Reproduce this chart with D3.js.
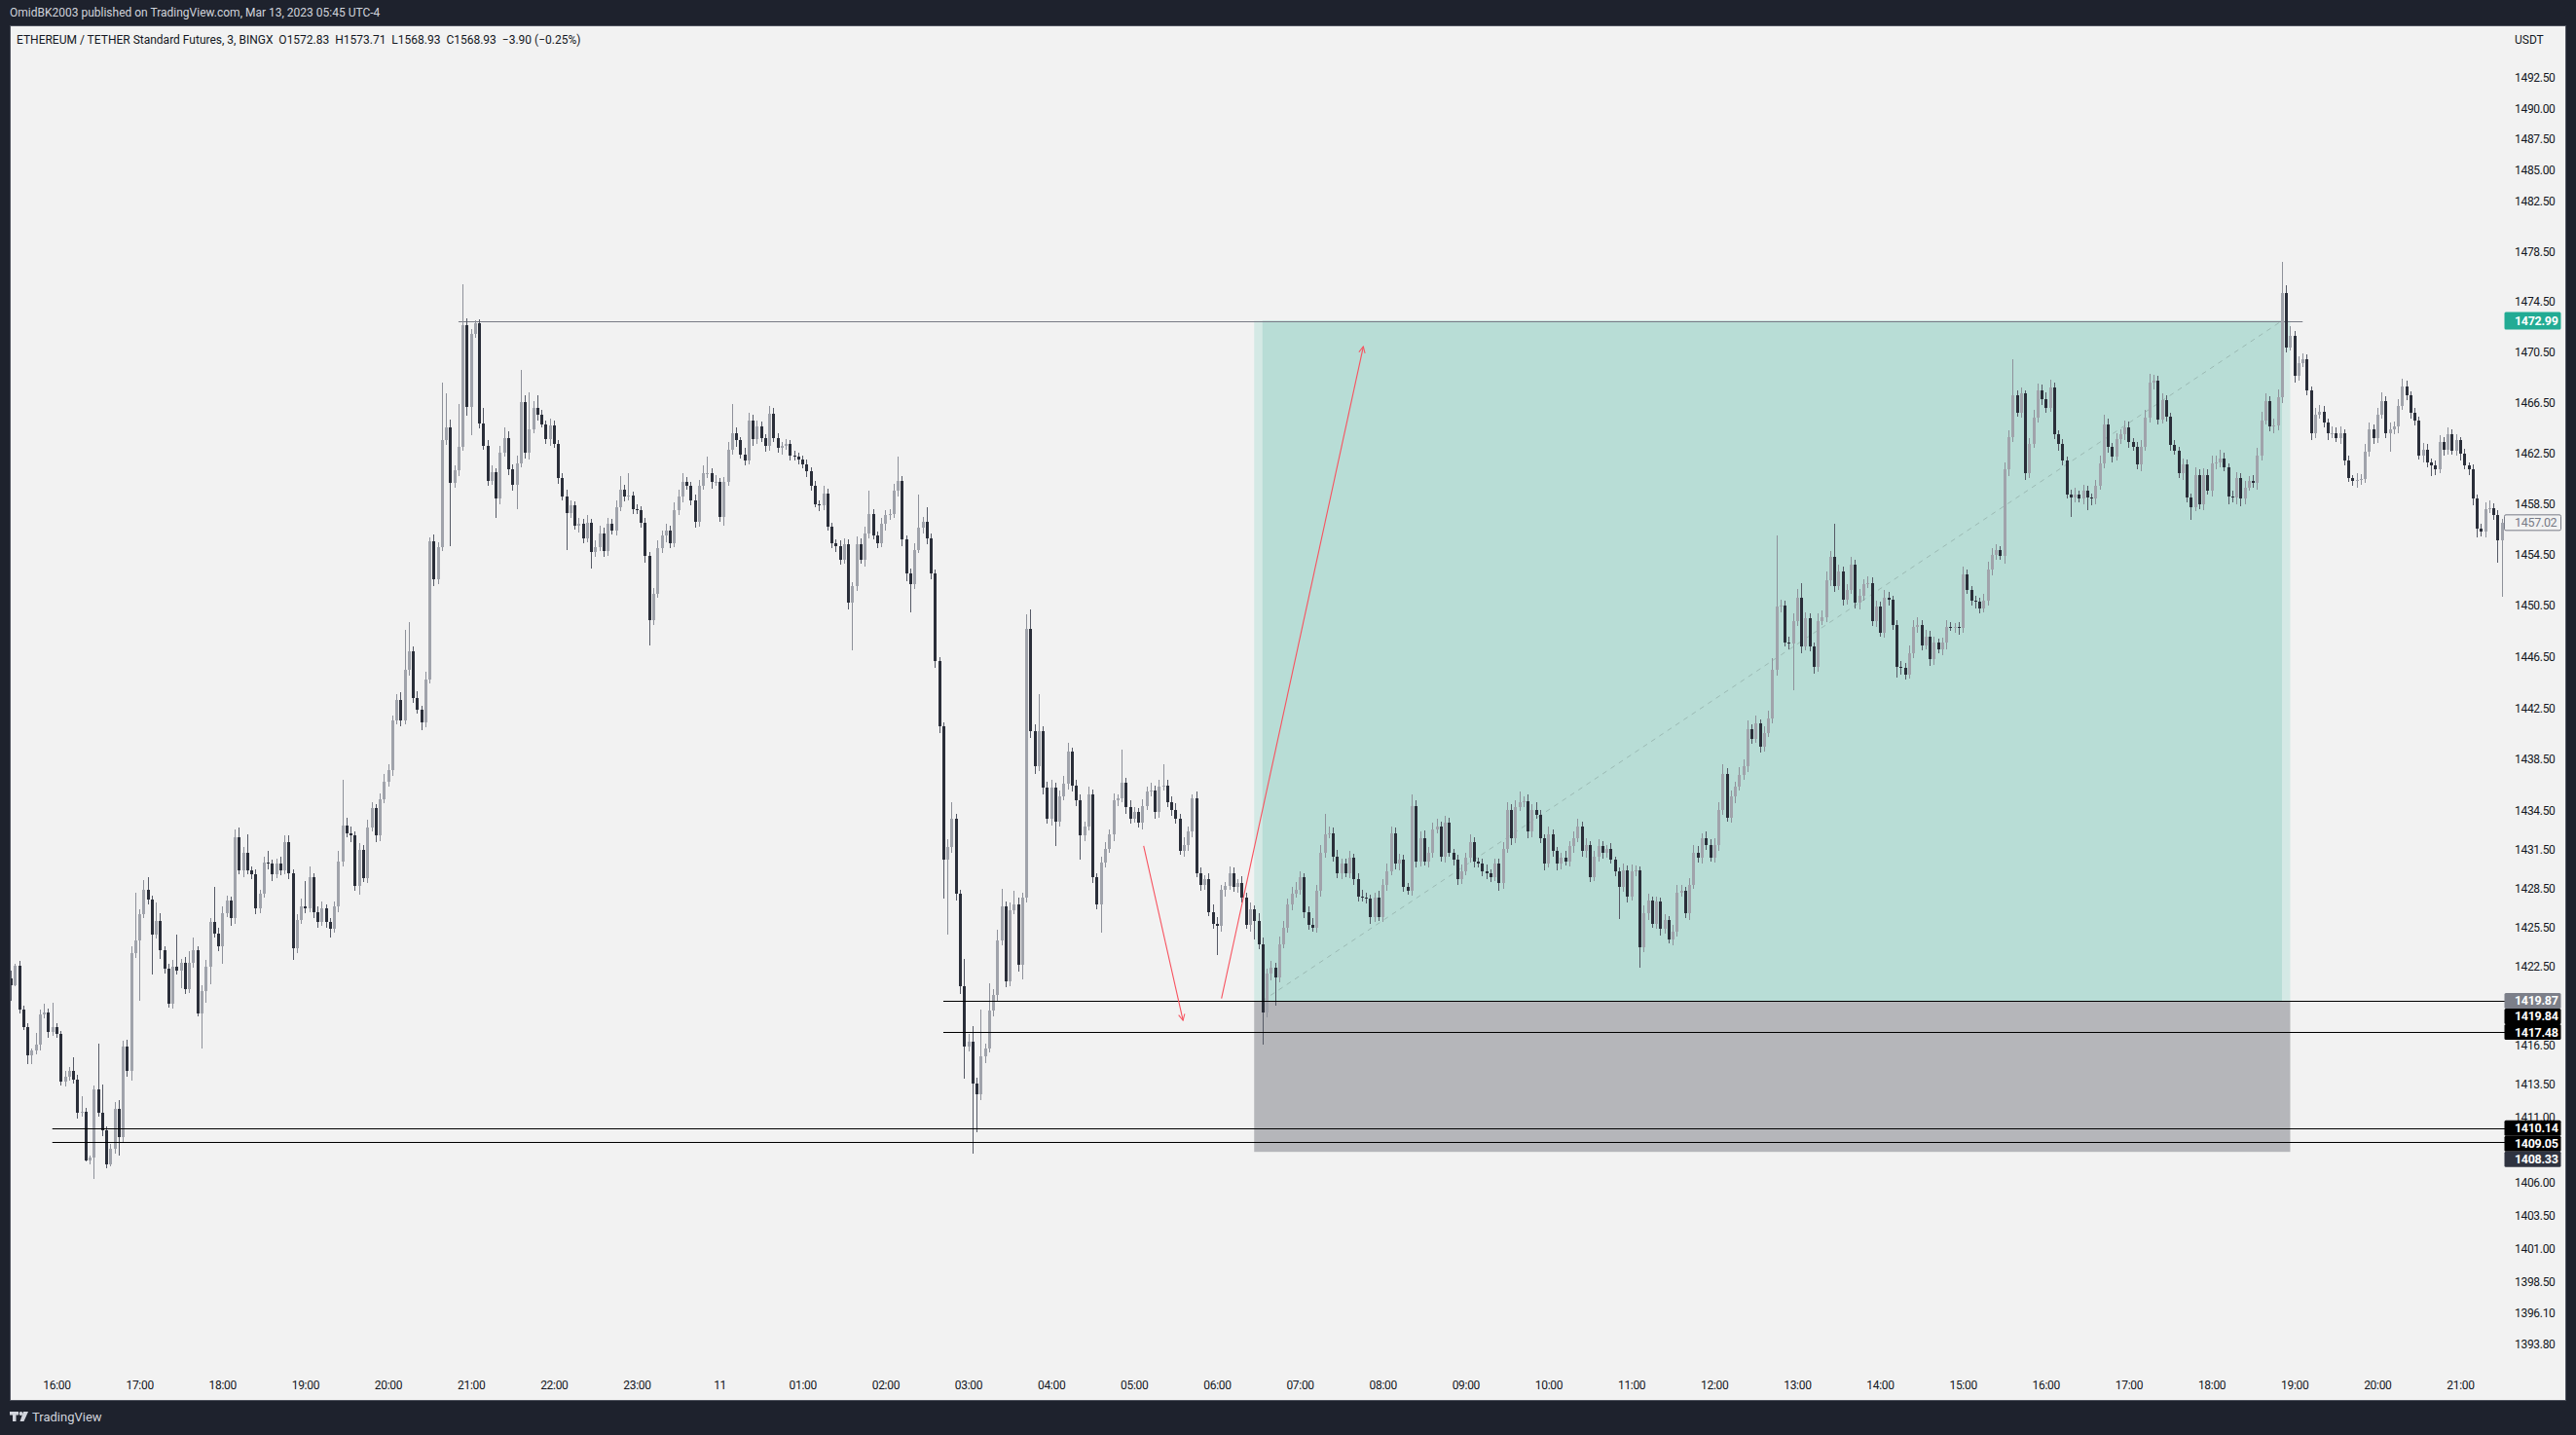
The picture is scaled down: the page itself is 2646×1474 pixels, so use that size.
<!DOCTYPE html>
<html><head><meta charset="utf-8">
<script src="https://cdn.jsdelivr.net/npm/d3@7/dist/d3.min.js"></script>
<style>html,body{margin:0;padding:0;background:#1e222d;overflow:hidden}svg{display:block;font-family:Roboto,'Noto Sans',sans-serif}</style>
</head><body>
<svg id="chart" width="2646" height="1474"></svg>
<script>
// ---------------- DATA ----------------
const barStartUTC = "2023-03-10T15:27:00Z";   // first 3-minute bar
const barMinutes = 3;
const firstOpen = 1421.59;
const closes = [
1421.09,1422.53,1419.22,1417.85,1415.70,1416.05,1416.48,1418.80,1418.94,1417.47,
1417.85,1417.32,1413.68,1414.03,1414.53,1413.81,1411.29,1411.35,1407.68,1407.87,
1413.11,1411.29,1409.94,1407.40,1408.57,1411.64,1409.42,1416.40,1414.48,1423.53,
1424.48,1426.52,1428.39,1427.67,1424.95,1426.00,1423.76,1422.33,1419.67,1422.48,
1422.21,1422.81,1420.79,1422.78,1423.76,1418.92,1420.64,1422.51,1425.90,1425.05,
1424.08,1426.60,1427.57,1426.20,1432.45,1429.90,1431.30,1429.90,1429.60,1427.00,
1428.10,1430.50,1430.40,1429.60,1430.40,1429.90,1432.10,1429.70,1423.90,1426.10,
1427.10,1427.00,1429.40,1426.70,1425.90,1427.00,1425.90,1425.40,1427.10,1430.60,
1433.40,1432.80,1432.60,1428.70,1431.50,1429.30,1433.20,1434.70,1432.60,1435.40,
1436.80,1437.70,1441.50,1443.10,1441.50,1445.50,1446.90,1443.30,1442.40,1441.40,
1444.70,1455.58,1452.57,1455.06,1463.56,1464.56,1460.15,1461.17,1463.00,1472.67,
1466.15,1471.95,1472.80,1464.87,1463.10,1460.30,1461.00,1458.90,1462.50,1463.70,
1461.20,1460.00,1461.70,1466.56,1462.50,1464.40,1466.05,1465.50,1464.80,1463.60,
1464.70,1463.20,1460.50,1459.10,1457.80,1458.40,1456.75,1456.90,1455.80,1457.00,
1454.70,1455.10,1456.20,1454.80,1456.90,1456.40,1458.20,1459.60,1459.10,1459.15,
1458.10,1458.00,1457.00,1454.40,1449.40,1451.40,1455.00,1456.00,1456.40,1455.40,
1458.00,1459.10,1460.20,1459.90,1458.80,1457.10,1459.90,1460.90,1460.90,1460.20,
1460.25,1457.50,1460.20,1462.80,1464.10,1463.50,1462.40,1461.90,1465.10,1463.60,
1464.60,1463.70,1463.10,1465.60,1463.70,1462.90,1463.10,1463.20,1462.30,1462.25,
1462.00,1461.60,1461.10,1459.90,1458.50,1458.40,1459.30,1456.70,1455.40,1455.20,
1454.10,1455.30,1450.70,1452.05,1455.35,1454.10,1456.20,1457.70,1456.00,1455.40,
1456.90,1457.60,1457.70,1459.50,1460.30,1455.70,1453.00,1452.20,1454.90,1456.60,
1457.10,1455.80,1453.00,1446.20,1441.06,1430.70,1431.70,1433.90,1428.10,1421.00,
1416.40,1416.70,1413.50,1412.70,1415.60,1416.20,1419.10,1420.30,1424.50,1427.10,
1421.40,1426.80,1427.30,1422.60,1427.80,1448.70,1440.70,1438.00,1440.70,1436.30,
1433.90,1436.30,1433.70,1435.60,1436.60,1439.10,1436.50,1435.30,1432.60,1433.30,
1435.80,1429.40,1427.30,1430.50,1431.60,1432.70,1435.30,1435.50,1436.70,1434.80,
1433.90,1434.40,1433.60,1434.90,1436.00,1436.10,1434.40,1436.40,1436.50,1435.20,
1434.60,1433.90,1431.40,1431.90,1432.90,1435.50,1429.70,1428.80,1429.25,1426.70,
1425.80,1425.60,1428.40,1428.70,1429.70,1428.65,1428.95,1427.80,1425.70,1426.90,
1426.00,1424.20,1419.00,1421.96,1422.40,1421.66,1424.20,1425.50,1427.30,1428.10,
1428.40,1429.40,1426.70,1425.70,1425.50,1428.35,1431.30,1432.70,1432.80,1431.00,
1429.70,1430.40,1429.70,1430.90,1429.25,1427.90,1427.80,1427.75,1426.30,1427.80,
1426.30,1428.80,1429.80,1432.80,1430.40,1430.70,1428.65,1428.35,1434.90,1430.60,
1432.40,1430.60,1431.30,1433.10,1433.30,1431.00,1433.60,1431.30,1430.70,1429.25,
1429.85,1430.90,1432.10,1430.60,1430.40,1429.85,1429.70,1429.40,1430.40,1428.90,
1431.60,1434.60,1432.40,1434.80,1435.20,1435.25,1432.90,1434.60,1434.20,1432.40,
1430.40,1432.70,1431.40,1430.40,1430.90,1430.60,1431.80,1432.40,1433.30,1431.40,
1431.90,1429.40,1431.00,1431.80,1431.30,1431.60,1430.70,1429.85,1428.65,1429.90,
1427.90,1429.85,1429.90,1424.00,1426.60,1427.60,1425.80,1427.50,1425.40,1426.10,
1424.60,1425.20,1428.20,1428.35,1426.60,1428.80,1431.30,1430.90,1432.40,1431.90,
1430.90,1431.90,1434.60,1437.40,1434.00,1435.60,1436.40,1437.30,1438.00,1440.85,
1440.10,1441.30,1439.50,1440.55,1441.70,1445.50,1450.40,1450.50,1447.60,1447.50,
1449.30,1451.10,1447.30,1449.50,1447.30,1445.70,1449.30,1449.60,1452.50,1454.30,
1452.00,1453.20,1451.00,1451.70,1453.70,1450.70,1451.30,1452.20,1452.30,1449.30,
1450.40,1448.40,1451.10,1451.00,1449.00,1445.70,1445.64,1445.10,1446.80,1448.85,
1449.00,1447.40,1448.10,1446.30,1447.60,1447.05,1447.60,1448.85,1448.80,1448.85,
1448.75,1452.96,1451.70,1450.90,1450.80,1450.30,1450.90,1453.35,1454.50,1454.90,
1454.40,1461.20,1463.80,1467.10,1465.70,1467.20,1460.90,1463.20,1465.30,1467.50,
1466.80,1466.10,1467.70,1464.00,1463.20,1461.90,1459.20,1459.00,1459.25,1458.90,
1459.50,1459.00,1458.90,1459.90,1461.70,1464.80,1463.00,1462.20,1463.60,1464.00,
1464.50,1463.35,1463.00,1461.60,1463.00,1465.30,1468.05,1468.20,1465.15,1466.70,
1465.40,1463.15,1462.70,1460.90,1461.60,1459.00,1458.20,1460.80,1458.50,1460.80,
1459.50,1461.70,1461.80,1462.10,1461.40,1459.10,1459.00,1460.50,1458.90,1459.80,
1460.30,1460.15,1462.30,1465.10,1466.60,1464.60,1464.70,1466.95,1475.20,1470.90,
1471.80,1468.60,1469.60,1469.90,1467.50,1464.05,1465.50,1465.80,1464.90,1464.05,
1464.10,1463.70,1464.10,1461.90,1460.50,1460.30,1460.40,1460.45,1462.60,1464.40,
1463.70,1465.50,1466.60,1464.10,1464.40,1464.60,1466.20,1467.80,1467.10,1465.70,
1465.10,1462.30,1462.80,1461.80,1461.50,1461.20,1463.35,1462.80,1464.00,1462.70,
1463.50,1462.45,1461.50,1461.20,1458.90,1456.55,1456.35,1458.10,1458.15,1457.60,
1455.60,1457.02];
// wick lengths (price units) above the body top and below the body bottom
const upperWick = [
.6,.2,.4,.3,.3,.2,.9,.4,.7,.3,1.9,.3,.2,.5,.3,1.0,.4,1.2,.3,.2,
.3,3.5,2.2,.3,.4,.5,.6,.4,.45,.5,3.7,.4,.8,1.0,.3,1.4,.6,.3,.4,.5,
2.5,.3,.4,.9,1.0,.3,.4,.5,.3,2.7,.4,.5,.4,.3,.6,.8,.4,1.4,.3,.4,
.3,.5,.9,.3,.4,.6,.5,.5,.3,.4,.6,2.0,.8,.3,.4,.5,.3,.3,.4,.8,
3.5,.6,.5,.3,.5,.4,.6,.5,.3,.5,.6,.4,.4,.5,.6,3.1,2.3,.4,.5,.3,
.6,.3,.5,.4,4.5,2.7,.6,.4,3.4,3.2,.5,.4,.2,.3,1.2,.4,.5,.3,.6,.8,
.5,.4,.6,2.5,.5,2.9,.6,1.0,.4,.3,.5,.4,.3,.4,.5,.4,.3,.5,.4,.6,
.3,.5,.6,.4,.5,.4,.6,1.1,.4,1.8,.3,.4,.3,.4,.3,.5,.6,.4,.5,.4,
.6,.5,.7,.4,.3,.4,.5,.6,1.3,.4,.5,.3,.4,.6,2.3,.4,.3,.5,.6,.4,
.5,.4,.3,.6,.5,.4,.3,.4,.3,.4,.3,.3,.4,.3,.4,.3,.6,.4,.3,.3,
.4,.5,.4,.3,.6,.4,.5,1.8,.4,.3,.5,.4,.4,.6,1.9,.4,.3,.4,.5,2.6,
.4,1.1,.4,.3,.3,.3,.6,1.3,.4,.3,2.1,.6,1.2,.5,3.6,.4,2.1,.5,.8,1.4,
.4,.6,1.0,.5,.4,1.1,1.5,.5,2.9,.4,.5,.6,.4,.5,.6,.7,.3,.4,.5,.4,
.6,.4,.3,.5,.5,.4,.6,.3,2.6,.4,.5,.4,.3,.5,.4,.6,.4,.5,1.6,.4,
.4,.5,.4,.6,.4,.3,.5,.4,.3,.4,.6,.5,.4,.3,.5,.4,.3,.5,.4,.5,
.3,.6,.5,.4,.5,.4,.6,.5,.4,.5,.6,.4,.3,.4,.5,.4,.6,1.6,.5,.4,
.5,.4,.4,.5,.3,.4,.5,.4,.3,.4,.5,.4,.6,.5,.4,.5,.4,.3,.9,.4,
.5,.6,.4,.5,.6,.4,.5,.4,.3,.4,.5,.4,.6,.4,.3,.4,.5,.3,.4,.4,
.5,.6,.4,.5,.8,.4,.5,.4,.6,.4,.3,.6,.4,.3,.4,.5,.4,.5,.6,.4,
.5,.3,.4,.5,.4,.3,.4,.3,.3,.5,.4,.5,.4,.3,.6,.5,.3,.4,.3,.4,
.3,.5,.6,.4,.3,.5,.6,.5,.4,.5,.4,.5,.6,.7,.4,.5,.4,.6,.5,.7,
.4,.6,.3,.5,.6,.9,5.6,.5,.4,.5,.6,.7,1.2,.5,.4,.3,.6,.5,.7,.5,
2.6,.5,.4,.5,.6,.4,.5,.4,.5,.4,.5,.4,.6,.5,.3,.4,.5,.4,.6,.5,
.6,.4,.5,.4,.5,.3,.4,.5,.4,.3,.4,.6,.4,.3,.4,.3,.5,.6,.5,.4,
.3,.6,.5,2.8,.4,.5,.3,.5,.6,.5,.4,.5,.6,.4,.3,.4,.3,.4,.5,.3,
.5,.4,.3,.5,.6,.7,.4,.3,.5,.4,.6,.5,.3,.4,.5,.6,.7,.5,.4,.5,
.4,.3,.4,.3,.5,.4,.3,.6,.4,.5,.4,.6,.5,.7,.4,.3,.4,.5,.4,.5,
.4,.5,.6,.7,.6,.4,.5,.6,2.5,.6,.8,.4,.6,.5,.4,.3,.6,.5,.4,.3,
.5,.4,.5,.3,.4,.3,.5,.4,.6,.5,.4,.6,.7,.4,.5,.4,.6,.6,.4,.3,
.4,.3,.5,.4,.3,.4,.6,.4,.5,.4,.5,.3,.4,.3,.4,.3,.4,.5,.6,.4,
.4,.3];
const lowerWick = [
1.2,.1,.3,.25,.7,.7,.3,.4,.3,.4,.3,.3,.3,.4,.3,.3,.4,.3,.1,.3,
1.6,.3,.4,.3,.2,.4,1.4,.3,.4,.7,.4,4.6,.3,.4,3.1,.3,.7,.4,.35,.4,
.3,1.4,.4,.3,.4,.25,2.7,.9,1.4,.3,.4,1.4,.3,.6,.4,.3,.5,.3,.4,.5,
.4,.3,.4,.5,.3,.4,.3,.5,.9,.4,.3,.4,.3,.5,.4,.3,.4,.7,.3,.4,
.4,.3,.5,.4,.7,.3,.4,.3,.5,.4,.3,.4,.5,.3,.4,.3,.5,.4,.3,.6,
.4,.3,.5,.4,.3,.4,5.0,.4,.5,.3,.7,2.2,.3,.4,.3,.4,.3,1.5,.4,.3,
.4,.5,1.9,.3,.4,.5,.3,.4,.3,.4,.5,.3,.4,.3,2.9,.4,.3,.5,.4,.3,
1.3,.4,.3,.5,.4,.3,.4,.3,.4,.3,.4,.3,.4,.5,2.0,.4,.3,.4,.5,.4,
.3,.4,.5,.3,.4,.5,.4,.3,.4,.5,.3,.4,.7,.3,.4,.5,.3,.4,.3,.5,
.4,.3,.5,.4,.3,.4,.5,.3,.4,.3,.4,.3,.5,.4,.3,.5,.4,.3,.4,.5,
.4,.3,.5,3.7,.4,.3,.5,.4,.3,.4,.3,.5,.4,.3,.4,.5,.6,2.2,.4,.3,
.4,.5,.4,.6,.5,3.0,5.75,.4,.5,.6,2.5,.4,5.3,2.9,.4,.5,.3,.4,.5,.4,
.5,.4,.3,.5,1.1,.4,.5,.6,.4,.5,.4,.5,1.9,.4,.3,.4,.5,.4,1.9,.4,
.3,.5,.4,2.2,.4,.3,.5,.4,.3,.5,.4,.3,.4,.5,.3,.4,.5,.4,.3,.4,
.5,.4,.3,.4,.5,.4,.3,.5,.4,.3,.4,2.2,.4,.5,.3,.4,.5,.4,.3,.5,
1.4,.4,2.5,.4,.5,2.2,.4,.3,.4,.5,.3,.4,.5,.4,.3,.4,.5,.4,.3,.4,
.4,.5,.3,.4,.5,.4,.3,.4,.5,.4,.3,.4,.5,.3,.4,.5,.4,.3,.4,.5,
.4,.3,.5,.4,.3,.4,.5,.3,.4,.5,.4,.3,.4,.5,.3,.4,.5,.4,.3,.6,
.4,.3,.5,.4,.3,.4,.5,.4,.3,.4,.5,.3,.4,.5,.4,.3,.4,.5,.3,.4,
.5,.4,.3,.4,.5,.4,.3,.4,2.5,.4,.5,.3,.4,1.6,.4,.5,.3,.4,.5,.4,
.3,.5,.4,.3,.4,.5,.3,.4,.5,.4,.3,.4,.5,.4,.3,.4,.5,.3,.4,.5,
.4,.3,.5,.4,.3,.4,.5,.4,.3,.4,3.6,.4,.5,.3,.4,.5,.4,.3,.4,.5,
.4,.3,.5,.4,.3,.4,.5,.4,.3,.4,.5,.3,.4,.5,.4,.8,.5,.4,.3,.4,
.5,.4,.3,.5,.4,.3,.4,.5,.3,.4,.5,.4,.3,.4,.5,.4,.3,.4,.5,.4,
.3,.6,.5,.4,.3,.4,.5,.4,.3,.4,.5,.4,.3,.4,.5,.4,.3,1.5,.4,.3,
.4,1.0,.5,.4,.3,.4,.5,.4,.3,.4,.5,.4,.3,.4,.5,.3,.4,.5,.4,.3,
.4,.5,.3,.4,.5,.4,1.0,.3,.4,.5,.3,.4,.5,.4,.3,.6,.4,.5,.6,.4,
.3,.4,.5,.4,.3,.4,.5,.4,.5,.4,.3,.5,.4,.3,.4,.5,.4,.3,.4,.5,
.4,.3,.5,.4,.3,.4,.5,.4,.3,.4,.5,.4,.3,.4,1.5,.4,.5,.3,.4,.5,
.4,.3,.5,.4,.8,.4,.3,.5,.4,.3,.4,.5,.3,.4,.5,.7,.4,.5,.3,.4,
1.7,4.4];

const timeTickStartUTC = "2023-03-10T16:00:00Z";
const timeTickLabels = ["16:00","17:00","18:00","19:00","20:00","21:00","22:00","23:00","11",
  "01:00","02:00","03:00","04:00","05:00","06:00","07:00","08:00","09:00","10:00","11:00",
  "12:00","13:00","14:00","15:00","16:00","17:00","18:00","19:00","20:00","21:00"];
const priceTicks = [1492.50,1490.00,1487.50,1485.00,1482.50,1478.50,1474.50,1470.50,
  1466.50,1462.50,1458.50,1454.50,1450.50,1446.50,1442.50,1438.50,1434.50,1431.50,1428.50,
  1425.50,1422.50,1416.50,1413.50,1411.00,1406.00,1403.50,1401.00,1398.50,1396.10,1393.80];

// long position tool
const posStart = "2023-03-11T06:27:00Z", posEnd = "2023-03-11T18:57:00Z";
const posActiveStart = "2023-03-11T06:33:00Z", posActiveEnd = "2023-03-11T18:51:00Z";
const entryPrice = 1419.87, targetPrice = 1472.99, stopPrice = 1408.33;
// user horizontal segments
const targetLine = {price:1472.99, from:"2023-03-10T20:51:00Z", to:"2023-03-11T19:06:00Z"};
const rayLines = [
  {price:1419.84, from:"2023-03-11T02:42:00Z"},
  {price:1417.48, from:"2023-03-11T02:42:00Z"},
  {price:1410.14, from:"2023-03-10T15:57:00Z"},
  {price:1409.05, from:"2023-03-10T15:57:00Z"}];
const arrows = [
  {from:{t:"2023-03-11T05:07:00Z", p:1431.8}, to:{t:"2023-03-11T05:35:30Z", p:1418.36}},
  {from:{t:"2023-03-11T06:03:20Z", p:1420.04}, to:{t:"2023-03-11T07:46:00Z", p:1470.94}}];
const axisLabels = [
  {v:1419.87, bg:"#7c7f89", fg:"#ffffff"},
  {v:1419.84, bg:"#000000", fg:"#ffffff"},
  {v:1417.48, bg:"#000000", fg:"#ffffff"},
  {v:1410.14, bg:"#000000", fg:"#ffffff"},
  {v:1409.05, bg:"#000000", fg:"#ffffff"},
  {v:1408.33, bg:"#2f3340", fg:"#ffffff"}];
const lastPrice = 1457.02;

const headerText = "OmidBK2003 published on TradingView.com, Mar 13, 2023 05:45 UTC-4";
const legendText = "ETHEREUM / TETHER Standard Futures, 3, BINGX  O1572.83  H1573.71  L1568.93  C1568.93  \u22123.90 (\u22120.25%)";

// ---------------- CHART ----------------
const W = 2646, H = 1474;
const panel = {x0:11, y0:27, x1:2635, y1:1438};
const plot = {x0:11, x1:2573, y0:27, y1:1405};
const svg = d3.select("#chart");

const t0 = new Date(barStartUTC).getTime();
const bars = closes.map((c, i) => {
  const o = i === 0 ? firstOpen : closes[i - 1];
  return {t: new Date(t0 + i * barMinutes * 60000), o, c,
    h: Math.max(o, c) + upperWick[i], l: Math.min(o, c) - lowerWick[i]};
});

const tickStart = new Date(timeTickStartUTC);
const tickDates = timeTickLabels.map((_, i) => d3.utcHour.offset(tickStart, i));
const x = d3.scaleUtc().domain([tickDates[0], tickDates[tickDates.length - 1]]).range([58, 2527]);
const y = d3.scaleLog().domain([1492.5, 1393.8]).range([79.3, 1380.4]);
const T = s => new Date(s);

// frame
svg.append("rect").attr("width", W).attr("height", H).attr("fill", "#1e222d");
svg.append("rect").attr("x", panel.x0 - 0.5).attr("y", panel.y0 - 0.5)
  .attr("width", panel.x1 - panel.x0 + 1).attr("height", panel.y1 - panel.y0 + 1)
  .attr("fill", "#f2f2f2").attr("stroke", "#4c505b").attr("stroke-width", 1);

const defs = svg.append("defs");
defs.append("clipPath").attr("id", "plotClip").append("rect")
  .attr("x", plot.x0).attr("y", plot.y0).attr("width", plot.x1 - plot.x0).attr("height", plot.y1 - plot.y0);
const g = svg.append("g").attr("clip-path", "url(#plotClip)");

// position tool
const yT = y(targetPrice), yE = y(entryPrice), yS = y(stopPrice);
g.append("rect").attr("x", x(T(posStart))).attr("width", x(T(posEnd)) - x(T(posStart)))
  .attr("y", yT).attr("height", yE - yT).attr("fill", "#d4e9e5");
g.append("rect").attr("x", x(T(posActiveStart))).attr("width", x(T(posActiveEnd)) - x(T(posActiveStart)))
  .attr("y", yT).attr("height", yE - yT).attr("fill", "#b8ddd6");
g.append("rect").attr("x", x(T(posStart))).attr("width", x(T(posEnd)) - x(T(posStart)))
  .attr("y", yE).attr("height", yS - yE).attr("fill", "#b5b6ba");
g.append("line").attr("x1", x(T(posActiveStart))).attr("y1", yE).attr("x2", x(T(posActiveEnd))).attr("y2", yT)
  .attr("stroke", "#8fa9a4").attr("stroke-opacity", 0.7).attr("stroke-width", 1).attr("stroke-dasharray", "5,5");

// target trend line
g.append("line").attr("x1", x(T(targetLine.from))).attr("x2", x(T(targetLine.to)))
  .attr("y1", Math.round(y(targetLine.price)) + 0.5).attr("y2", Math.round(y(targetLine.price)) + 0.5)
  .attr("stroke", "#787b86").attr("stroke-width", 1.2);

// candles
const cg = g.append("g").attr("shape-rendering", "crispEdges");
const bw = 3;
cg.selectAll("line.wick").data(bars).join("line").attr("class", "wick")
  .attr("x1", d => Math.round(x(d.t)) + 0.5).attr("x2", d => Math.round(x(d.t)) + 0.5)
  .attr("y1", d => y(d.h)).attr("y2", d => y(d.l))
  .attr("stroke", d => d.c >= d.o ? "#8e919a" : "#565a66").attr("stroke-width", 1);
cg.selectAll("rect.body").data(bars).join("rect").attr("class", "body")
  .attr("x", d => Math.round(x(d.t)) - 1).attr("width", bw)
  .attr("y", d => y(Math.max(d.o, d.c)))
  .attr("height", d => Math.max(1, y(Math.min(d.o, d.c)) - y(Math.max(d.o, d.c))))
  .attr("fill", d => d.c >= d.o ? "#a0a3ab" : "#2a2e39");

// horizontal rays
g.selectAll("line.ray").data(rayLines).join("line").attr("class", "ray")
  .attr("x1", d => x(T(d.from))).attr("x2", plot.x1)
  .attr("y1", d => Math.round(y(d.price)) + 0.5).attr("y2", d => Math.round(y(d.price)) + 0.5)
  .attr("stroke", "#000").attr("stroke-width", 1.2);

// arrows
defs.append("marker").attr("id", "ah").attr("viewBox", "0 0 10 10").attr("refX", 9).attr("refY", 5)
  .attr("markerWidth", 8).attr("markerHeight", 8).attr("markerUnits", "userSpaceOnUse").attr("orient", "auto")
  .append("path").attr("d", "M1,1 L9,5 L1,9").attr("fill", "none").attr("stroke", "#f7525f").attr("stroke-width", 1.3);
g.selectAll("line.arrow").data(arrows).join("line").attr("class", "arrow")
  .attr("x1", d => x(T(d.from.t))).attr("y1", d => y(d.from.p))
  .attr("x2", d => x(T(d.to.t))).attr("y2", d => y(d.to.p))
  .attr("stroke", "#f7525f").attr("stroke-width", 1.1).attr("marker-end", "url(#ah)");

// time axis
const xAxis = d3.axisBottom(x).tickValues(tickDates).tickSize(0).tickPadding(0)
  .tickFormat((d, i) => timeTickLabels[i]);
const xa = svg.append("g").attr("transform", "translate(0,1423)").call(xAxis);
xa.select(".domain").remove();
xa.selectAll("text").attr("dy", "0.35em").attr("fill", "#131722").style("font-size", "12px")
  .style("font-family", "Roboto, sans-serif").style("letter-spacing", "-0.3px");

// price axis
const yAxis = d3.axisRight(y).tickValues(priceTicks).tickSize(0).tickPadding(10).tickFormat(d3.format(".2f"));
const ya = svg.append("g").attr("transform", `translate(${plot.x1},0)`).call(yAxis);
ya.select(".domain").remove();
ya.selectAll("text").attr("fill", "#131722").style("font-size", "12px")
  .style("font-family", "Roboto, sans-serif").style("letter-spacing", "-0.3px");

// USDT header of price axis
svg.append("text").attr("x", 2583).attr("y", 41).attr("dy", "0.35em").text("USDT")
  .attr("fill", "#131722").style("font-size", "12px");

// axis labels: stacked downward so they never overlap
const LH = 16;
const items = axisLabels.map(d => ({...d, y0: y(d.v)})).sort((a, b) => a.y0 - b.y0);
let prevBottom = -Infinity;
items.forEach(d => { d.y = Math.max(d.y0, prevBottom + LH / 2); prevBottom = d.y + LH / 2; });
const lab = svg.append("g");
function priceLabel(v, yc, h, bg, fg, stroke) {
  lab.append("rect").attr("x", 2572.5).attr("y", yc - h / 2).attr("width", 58).attr("height", h)
    .attr("rx", 1.5).attr("fill", bg).attr("stroke", stroke || "none");
  lab.append("text").attr("x", 2583).attr("y", yc).attr("dy", "0.36em").text(d3.format(".2f")(v))
    .attr("fill", fg).style("font-size", "12.5px").style("font-weight", stroke ? "400" : "700")
    .style("letter-spacing", "-0.3px");
}
items.forEach(d => priceLabel(d.v, d.y, LH, d.bg, d.fg));
priceLabel(targetPrice, y(targetPrice), 18, "#22ab94", "#ffffff");
priceLabel(lastPrice, y(lastPrice), 16, "#f2f2f2", "#787b86", "#787b86");

// texts
svg.append("text").attr("x", 10).attr("y", 13).attr("dy", "0.35em").text(headerText)
  .attr("fill", "#d1d4dc").style("font-size", "12px");
svg.append("text").attr("x", 17).attr("y", 41).attr("dy", "0.35em").text(legendText)
  .attr("fill", "#131722").style("font-size", "12px").attr("xml:space", "preserve").style("white-space", "pre");

// footer logo
const lg = svg.append("g").attr("fill", "#d1d4dc");
lg.append("rect").attr("x", 10).attr("y", 1450).attr("width", 9).attr("height", 3.5);
lg.append("rect").attr("x", 13).attr("y", 1450).attr("width", 3.5).attr("height", 10);
lg.append("circle").attr("cx", 21.5).attr("cy", 1452).attr("r", 1.9);
lg.append("path").attr("d", "M24,1450 L29,1450 L24.5,1460 L20.5,1460 Z");
svg.append("text").attr("x", 33).attr("y", 1455.5).attr("dy", "0.35em").text("TradingView")
  .attr("fill", "#d1d4dc").style("font-size", "13px");
</script>
</body></html>
